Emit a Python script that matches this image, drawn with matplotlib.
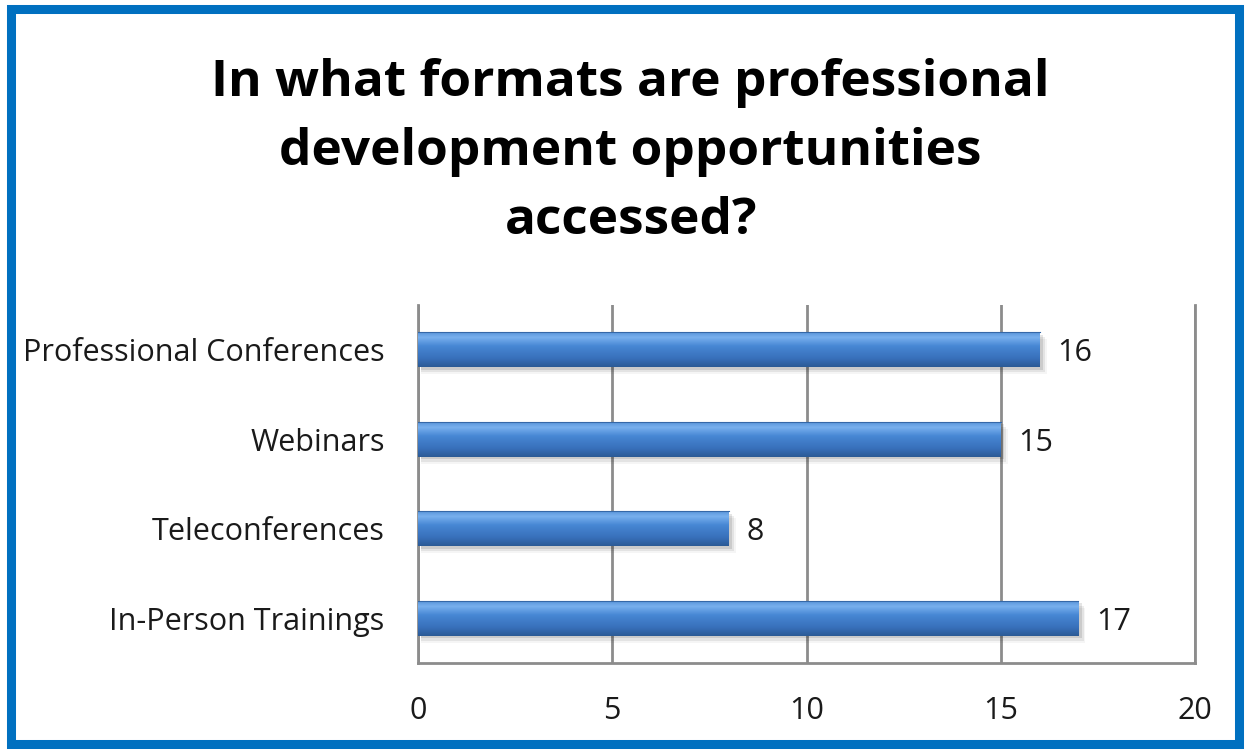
import numpy as np
import matplotlib.pyplot as plt
from matplotlib.colors import LinearSegmentedColormap
from matplotlib.patches import Rectangle

categories = ["In-Person Trainings", "Teleconferences", "Webinars", "Professional Conferences"]
counts = [17, 8, 15, 16]
x_ticks = [0, 5, 10, 15, 20]

title = "In what formats are professional\ndevelopment opportunities\naccessed?"

fig = plt.figure(figsize=(12.49, 7.52), dpi=100)
fig.patch.set_facecolor("white")

# outer blue frame
fig.add_artist(Rectangle((0.0085, 0.0105), 0.9835, 0.9775, transform=fig.transFigure,
                         fill=False, edgecolor="#0070C0", linewidth=6.5))

fig.text(0.505, 0.798, title, ha="center", va="center", fontsize=37,
         fontweight="bold", family="Open Sans", linespacing=1.49, color="black")

ax = fig.add_axes([0.3347, 0.1184, 0.6221, 0.476])
y = np.arange(len(categories))
bar_h = 0.39

# soft drop shadows under the bars
for yi, v in zip(y, counts):
    for k, a in enumerate([0.10, 0.07, 0.04]):
        ax.add_patch(Rectangle((0.08, yi - bar_h / 2 - 0.03 - 0.025 * k), v + 0.05 * k, bar_h,
                               facecolor="black", alpha=a, edgecolor="none", zorder=2))

bars = ax.barh(y, counts, height=bar_h, color="none", edgecolor="none", zorder=3)

cmap = LinearSegmentedColormap.from_list(
    "bar", [(0.0, "#2B5A95"), (0.25, "#3870BB"), (0.6, "#4787D4"), (0.85, "#78B0EE"), (1.0, "#5A95DA")])
grad = np.linspace(0, 1, 256).reshape(-1, 1)
for b in bars:
    x0, y0 = b.get_x(), b.get_y()
    w, h = b.get_width(), b.get_height()
    im = ax.imshow(grad, cmap=cmap, aspect="auto", origin="lower",
                   extent=(x0, x0 + w, y0, y0 + h), zorder=4)
    im.set_clip_path(b)
    ax.plot([x0, x0 + w], [y0 + h, y0 + h], color="#3568A8", lw=0.8, zorder=5)

for yi, v in zip(y, counts):
    ax.text(v + 0.45, yi, str(v), va="center_baseline", ha="left", fontsize=22,
            family="Open Sans", color="#1a1a1a")

ax.set_xlim(0, 20)
ax.set_ylim(-0.5, len(categories) - 0.5)
ax.set_xticks(x_ticks)
ax.set_xticklabels([str(t) for t in x_ticks], fontsize=22, family="Open Sans", color="#1a1a1a")
ax.set_yticks(y)
ax.set_yticklabels(categories, fontsize=22, family="Open Sans", color="#1a1a1a")
ax.tick_params(axis="x", length=0, pad=24)
ax.tick_params(axis="y", length=0, pad=24)

ax.grid(axis="x", color="#8C8C8C", linewidth=2, zorder=1)
ax.set_axisbelow(True)
ax.spines["top"].set_visible(False)
for side in ["left", "bottom", "right"]:
    ax.spines[side].set_color("#8C8C8C")
    ax.spines[side].set_linewidth(2)

fig.savefig("out.png", dpi=100, facecolor="white")
